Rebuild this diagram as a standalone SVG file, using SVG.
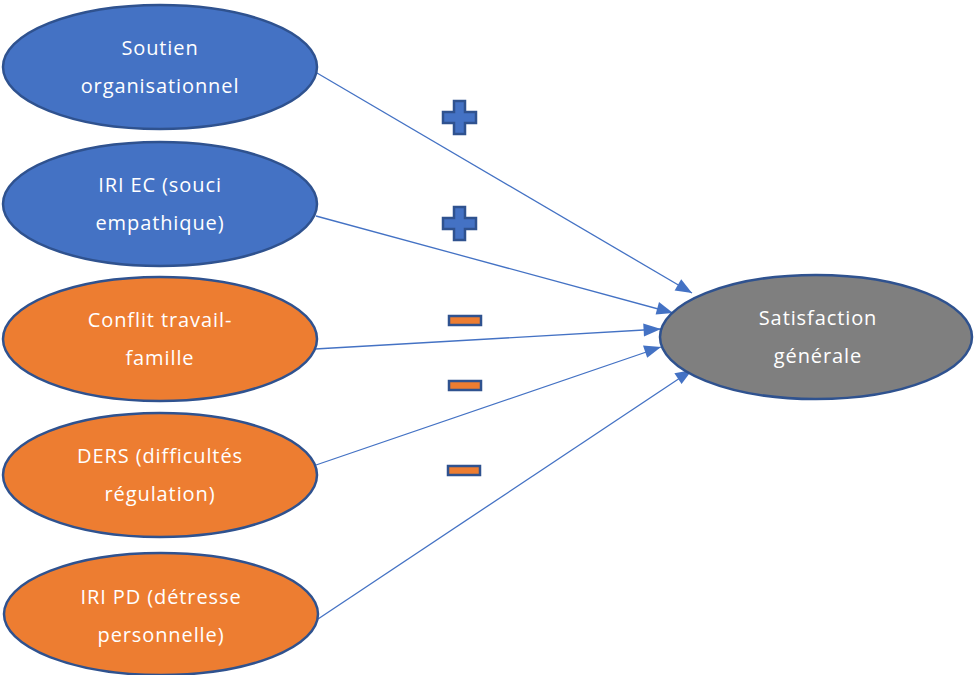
<svg xmlns="http://www.w3.org/2000/svg" width="974" height="675" viewBox="0 0 974 675">
<style>
.n{stroke:#2F528F;stroke-width:2.5}
.b{fill:#4472C4}
.o{fill:#ED7D31}
.g{fill:#7F7F7F}
text{font-family:"Open Sans","Noto Sans","Liberation Sans",sans-serif;font-size:20px;letter-spacing:0.9px;fill:#ffffff;text-anchor:middle}
.c{stroke:#4472C4;stroke-width:1.3;fill:none}
.plus{fill:#4472C4;stroke:#2F528F;stroke-width:2.5}
.minus{fill:#ED7D31;stroke:#2F528F;stroke-width:2.5}
</style>
<rect width="974" height="675" fill="#ffffff"/>
<g id="connectors">
<path class="c" d="M317,73 L692,293"/>
<path class="c" d="M316,216 L673,313"/>
<path class="c" d="M315,349 L661,329"/>
<path class="c" d="M316,465 L661,347"/>
<path class="c" d="M318,619 L692,370"/>
<g fill="#4472C4">
<polygon points="692,293 674.6,290.4 681.2,279.2"/>
<polygon points="673,313 655.6,314.5 659,302"/>
<polygon points="661,329 644,336.5 643.2,323.5"/>
<polygon points="661,347 647.2,357.7 643,345.4"/>
<polygon points="692,370 681.6,384.1 674.4,373.3"/>
</g>
</g>
<g id="soutien">
<ellipse class="n b" cx="160" cy="67" rx="157" ry="62"/>
<text x="160" y="55">Soutien</text>
<text x="160" y="93">organisationnel</text>
</g>
<g id="iri-ec">
<ellipse class="n b" cx="160" cy="204" rx="157" ry="62"/>
<text x="160" y="192">IRI EC (souci</text>
<text x="160" y="230">empathique)</text>
</g>
<g id="conflit">
<ellipse class="n o" cx="160" cy="339" rx="157" ry="62"/>
<text x="160" y="327">Conflit travail-</text>
<text x="160" y="365">famille</text>
</g>
<g id="ders">
<ellipse class="n o" cx="160" cy="475" rx="157" ry="62"/>
<text x="160" y="463">DERS (difficultés</text>
<text x="160" y="501">régulation)</text>
</g>
<g id="iri-pd">
<ellipse class="n o" cx="161" cy="614" rx="157" ry="61"/>
<text x="161" y="604">IRI PD (détresse</text>
<text x="161" y="642">personnelle)</text>
</g>
<g id="satisfaction">
<ellipse class="n g" cx="816" cy="337" rx="156" ry="62"/>
<text x="818" y="325">Satisfaction</text>
<text x="818" y="363">générale</text>
</g>
<g id="signs">
<path class="plus" d="M454,101 h11 v11 h11 v11 h-11 v11 h-11 v-11 h-11 v-11 h11 z"/>
<path class="plus" d="M454,207 h11 v11 h11 v11 h-11 v11 h-11 v-11 h-11 v-11 h11 z"/>
<rect class="minus" x="449" y="316" width="32" height="9"/>
<rect class="minus" x="449" y="381" width="32" height="9"/>
<rect class="minus" x="448" y="466" width="32" height="9"/>
</g>
</svg>
